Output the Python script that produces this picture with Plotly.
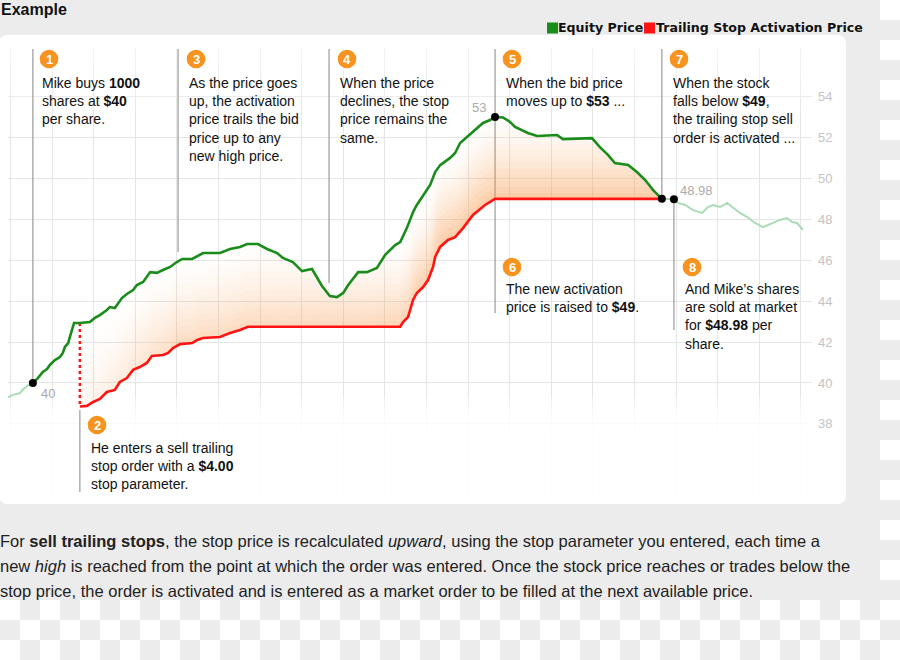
import numpy as np
import plotly.graph_objects as go

# ---------------- data (time index, price in $) ----------------
pre_t = [-0.6, 0.6, 2.3, 3.0, 4.0, 5.4]
pre_v = [39.30, 39.42, 39.50, 39.68, 39.85, 40.00]

green_t = [5.4, 6.6, 7.8, 8.8, 9.5, 10.7, 11.9, 12.6, 13.1, 13.9, 14.3, 14.8, 15.3, 16.7,
           19.1, 20.3, 21.5, 23.2, 23.9, 25.1, 26.8, 28.0, 29.5, 30.4, 31.9, 33.6, 35.2,
           36.7, 38.4, 40.0, 41.3, 43.7, 46.3, 50.4, 52.8, 55.2, 56.9, 59.5, 61.7, 64.1,
           65.5, 67.9, 70.1, 72.5, 73.7, 74.9, 76.8, 78.5, 80.0, 81.2, 83.6, 85.7, 88.1,
           90.1, 92.5, 93.7, 95.3, 96.8, 97.7, 99.2, 100.9, 102.1, 103.3, 105.7, 106.9,
           108.1, 109.8, 111.7, 113.6, 115.3, 116.5, 118.4, 120.1, 121.3, 123.0, 124.4,
           126.6, 131.4, 132.8, 139.8, 141.7, 143.7, 145.3, 148.5, 150.6, 152.6, 154.5, 156.6]
green_v = [40.00, 40.24, 40.54, 40.68, 40.88, 41.12, 41.27, 41.47, 41.76, 41.95, 42.25, 42.59,
           42.93, 42.93, 42.98, 43.18, 43.32, 43.57, 43.71, 43.66, 44.15, 44.35, 44.54, 44.79,
           44.94, 45.42, 45.38, 45.52, 45.67, 45.91, 46.06, 46.06, 46.35, 46.35, 46.55, 46.65,
           46.79, 46.79, 46.55, 46.35, 46.11, 45.91, 45.47, 45.57, 45.13, 44.74, 44.25, 44.20,
           44.40, 44.79, 45.42, 45.42, 45.62, 46.26, 46.74, 46.89, 47.57, 48.36, 48.70, 49.19,
           49.68, 50.31, 50.65, 51.00, 51.24, 51.73, 52.02, 52.36, 52.71, 52.85, 53.00, 52.98,
           52.76, 52.51, 52.36, 52.22, 52.07, 52.12, 51.92, 51.97, 51.53, 51.14, 50.75, 50.65,
           50.31, 49.92, 49.43, 49.00]

red_t = [16.7, 18.4, 19.9, 21.5, 23.2, 25.1, 26.3, 28.0, 29.5, 31.1, 32.8, 34.0, 36.7, 37.9,
         39.1, 40.8, 43.7, 44.9, 46.3, 50.4, 52.8, 55.2, 57.1, 93.7, 94.4, 95.6, 96.8, 97.7,
         99.2, 100.4, 101.6, 102.1, 103.3, 105.2, 106.9, 108.8, 111.2, 114.1, 116.5, 156.6]
red_v = [38.85, 38.88, 39.07, 39.22, 39.56, 39.66, 40.05, 40.24, 40.64, 40.78, 40.98, 41.32,
         41.37, 41.47, 41.71, 41.90, 41.95, 42.10, 42.20, 42.25, 42.44, 42.59, 42.75, 42.75,
         42.98, 43.23, 44.06, 44.40, 44.69, 45.03, 45.67, 46.16, 46.65, 46.99, 47.13, 47.57,
         48.21, 48.70, 49.00, 49.00]

post_t = [156.6, 159.5, 160.5, 162.2, 164.1, 166.3, 167.7, 168.9, 170.6, 172.3, 173.5, 175.4,
          177.1, 179.0, 180.9, 183.1, 185.0, 186.7, 187.9, 189.1, 190.5]
post_v = [49.00, 48.98, 48.80, 48.70, 48.45, 48.31, 48.60, 48.70, 48.60, 48.80, 48.60, 48.31,
          48.11, 47.82, 47.62, 47.82, 47.97, 48.06, 47.87, 47.82, 47.48]

y_ticks = [38, 40, 42, 44, 46, 48, 50, 52, 54]
series_names = ["Equity Price", "Trailing Stop Activation Price"]

# ---------------- geometry helpers (layout only) ----------------
W, H = 900, 660
ML, MR, MT, MB = 8, 88, 40, 160
PW, PH = W - ML - MR, H - MT - MB
XR = [-0.577, 192.69]
YR = [34.28, 56.764]


def X(px):
    return (px - ML) / PW


def Y(py):
    return (H - MB - py) / PH


def V(py):
    return YR[1] - (py - MT) / PH * (YR[1] - YR[0])


GREEN = "#1a8c1a"
RED = "#ff1414"
LIGHT = "#a9dcb6"
ORANGE = (247, 150, 70)
FONT = "Liberation Sans, Arial, sans-serif"

fig = go.Figure()

# ---------------- gradient fill between the two lines ----------------
tu = np.union1d(green_t, red_t)
tu = tu[(tu >= red_t[0]) & (tu <= red_t[-1])]
g_i = np.interp(tu, green_t, green_v)
r_i = np.interp(tu, red_t, red_v)
fig.add_trace(go.Scatter(x=tu, y=r_i, mode="lines", line=dict(width=0),
                         hoverinfo="skip", showlegend=False))
N, dv = 14, 0.3
for k in range(1, N + 1):
    upper = np.minimum(g_i, r_i + k * dv)
    a = 0.46 * (1 - (k - 1) / N) ** 1.6

    def c(f):
        return f"rgba({ORANGE[0]},{ORANGE[1]},{ORANGE[2]},{a * f:.3f})"
    fig.add_trace(go.Scatter(
        x=tu, y=upper, mode="lines", line=dict(width=0), fill="tonexty",
        fillgradient=dict(type="horizontal",
                          colorscale=[[0, c(0.15)], [0.17, c(0.7)], [0.5, c(0.75)],
                                      [0.62, c(1.0)], [1, c(1.0)]]),
        hoverinfo="skip", showlegend=False))

# ---------------- lines ----------------
fig.add_trace(go.Scatter(x=pre_t, y=pre_v, mode="lines", line=dict(color=LIGHT, width=2),
                         showlegend=False))
fig.add_trace(go.Scatter(x=post_t, y=post_v, mode="lines", line=dict(color=LIGHT, width=2),
                         showlegend=False))
fig.add_trace(go.Scatter(x=[red_t[0], red_t[0]], y=[green_v[green_t.index(red_t[0])], red_v[0]],
                         mode="lines", line=dict(color=RED, width=2.5, dash="dot"),
                         showlegend=False))
fig.add_trace(go.Scatter(x=red_t, y=red_v, mode="lines", name=series_names[1],
                         line=dict(color=RED, width=2.6), showlegend=False))
fig.add_trace(go.Scatter(x=green_t, y=green_v, mode="lines", name=series_names[0],
                         line=dict(color=GREEN, width=2.6), showlegend=False))
ipk = int(np.argmax(green_v))
dot_t = [green_t[0], green_t[ipk], green_t[-1], post_t[1]]
dot_v = [green_v[0], green_v[ipk], green_v[-1], post_v[1]]
fig.add_trace(go.Scatter(x=dot_t, y=dot_v, mode="markers",
                         marker=dict(color="black", size=8), showlegend=False))

shapes = []
annos = []

# ---------------- page background: card + checkerboard ----------------
cx0, cx1, cy0, cy1, r = -1, 846, 35, 504, 9
path = (f"M {X(cx0 + r)},{Y(cy0)} L {X(cx1 - r)},{Y(cy0)} Q {X(cx1)},{Y(cy0)} {X(cx1)},{Y(cy0 + r)} "
        f"L {X(cx1)},{Y(cy1 - r)} Q {X(cx1)},{Y(cy1)} {X(cx1 - r)},{Y(cy1)} "
        f"L {X(cx0 + r)},{Y(cy1)} Q {X(cx0)},{Y(cy1)} {X(cx0)},{Y(cy1 - r)} "
        f"L {X(cx0)},{Y(cy0 + r)} Q {X(cx0)},{Y(cy0)} {X(cx0 + r)},{Y(cy0)} Z")
shapes.append(dict(type="path", path=path, xref="paper", yref="paper",
                   fillcolor="white", line=dict(width=0), layer="below"))
for i in range(45):
    for j in range(33):
        if (i == 44 or j >= 30) and (i + j) % 2 == 0:
            shapes.append(dict(type="rect", xref="paper", yref="paper",
                               x0=X(i * 20), x1=X(i * 20 + 20), y0=Y(j * 20 + 20), y1=Y(j * 20),
                               fillcolor="white", line=dict(width=0), layer="below"))

# ---------------- grid fade (between grid and traces) ----------------
for k in range(8):
    shapes.append(dict(type="rect", xref="x", yref="y", x0=XR[0], x1=XR[1],
                       y0=YR[0], y1=V(396 + k * 6), fillcolor="white", opacity=0.3,
                       line=dict(width=0), layer="between"))
for k in range(6):
    shapes.append(dict(type="rect", xref="x", yref="y", x0=XR[0], x1=XR[1],
                       y0=V(50 + k * 12), y1=YR[1], fillcolor="white", opacity=0.14,
                       line=dict(width=0), layer="between"))
shapes.append(dict(type="rect", xref="x", yref="y", x0=XR[0], x1=XR[1],
                   y0=V(48), y1=YR[1], fillcolor="white", line=dict(width=0), layer="between"))

# ---------------- leader lines ----------------
GRAY = "#9a9a9a"
leaders = [(green_t[0], 49, 380), (40.3, 49, 252), (76.6, 49, 283), (green_t[ipk], 49, 313),
           (green_t[-1], 49, 196), (post_t[1], 203, 330), (red_t[0], 410, 492)]
for lt, ya, yb in leaders:
    shapes.append(dict(type="line", xref="x", yref="y", x0=lt, x1=lt, y0=V(ya), y1=V(yb),
                       line=dict(color=GRAY, width=1.2), layer="between"))

# ---------------- numbered circles ----------------
circles = [("1", 49, 59), ("3", 196, 59), ("4", 347, 59), ("5", 512, 59), ("7", 679, 59),
           ("2", 97, 425), ("6", 512, 267), ("8", 692, 267)]
rc = 9.3
for lab, cx, cy in circles:
    shapes.append(dict(type="circle", xref="paper", yref="paper", x0=X(cx - rc), x1=X(cx + rc),
                       y0=Y(cy + rc), y1=Y(cy - rc), fillcolor="#f7931e",
                       line=dict(width=0), layer="above"))
    annos.append(dict(x=X(cx), y=Y(cy + 0.5), xref="paper", yref="paper", text=f"<b>{lab}</b>",
                      showarrow=False, xanchor="center", yanchor="middle",
                      font=dict(family=FONT, size=13, color="white")))

# ---------------- text blocks ----------------
blocks = [
    (40, 83, "Mike buys <b>1000</b><br>shares at <b>$40</b><br>per share."),
    (187, 83, "As the price goes<br>up, the activation<br>price trails the bid<br>price up to any<br>new high price."),
    (338, 83, "When the price<br>declines, the stop<br>price remains the<br>same."),
    (504, 83, "When the bid price<br>moves up to <b>$53</b> ..."),
    (671, 83, "When the stock<br>falls below <b>$49</b>,<br>the trailing stop sell<br>order is activated ..."),
    (89, 448, "He enters a sell trailing<br>stop order with a <b>$4.00</b><br>stop parameter."),
    (504, 289, "The new activation<br>price is raised to <b>$49</b>."),
    (683, 289, "And Mike\u2019s shares<br>are sold at market<br>for <b>$48.98</b> per<br>share."),
]
for bx, by, s in blocks:
    annos.append(dict(x=X(bx), y=Y(by - 10.1), xref="paper", yref="paper", text=s,
                      showarrow=False, xanchor="left", yanchor="top", align="left",
                      font=dict(family=FONT, size=14, color="#111")))

# value labels near dots
for s, lx, ly in [("40", 48, 393), ("53", 479, 107), ("48.98", 696, 190)]:
    annos.append(dict(x=X(lx), y=Y(ly), xref="paper", yref="paper", text=s, showarrow=False,
                      xanchor="center", yanchor="middle",
                      font=dict(family=FONT, size=13, color="#ababab")))

# ---------------- title, legend, paragraph ----------------
annos.append(dict(x=X(-1), y=Y(10), xref="paper", yref="paper", text="<b>Example</b>",
                  showarrow=False, xanchor="left", yanchor="middle",
                  font=dict(family=FONT, size=16, color="#111")))
for (sx, col), name, tx in [((547, GREEN), series_names[0], 556),
                            ((644, RED), series_names[1], 653.5)]:
    shapes.append(dict(type="rect", xref="paper", yref="paper", x0=X(sx), x1=X(sx + 11),
                       y0=Y(33.5), y1=Y(22.5), fillcolor=col, line=dict(width=0)))
    annos.append(dict(x=X(tx), y=Y(28), xref="paper", yref="paper", text=f"<b>{name}</b>",
                      showarrow=False, xanchor="left", yanchor="middle",
                      font=dict(family="DejaVu Sans", size=12.6, color="#111")))

para = [
    "For <b>sell trailing stops</b>, the stop price is recalculated <i>upward</i>, using the stop parameter you entered, each time a",
    "new <i>high</i> is reached from the point at which the order was entered. Once the stock price reaches or trades below the",
    "stop price, the order is activated and is entered as a market order to be filled at the next available price.",
]
for k, s in enumerate(para):
    annos.append(dict(x=X(-2), y=Y(541 + 25 * k), xref="paper", yref="paper", text=s,
                      showarrow=False, xanchor="left", yanchor="middle",
                      font=dict(family=FONT, size=16.5, color="#222")))

fig.update_layout(
    width=W, height=H, margin=dict(l=ML, r=MR, t=MT, b=MB),
    paper_bgcolor="#ececec", plot_bgcolor="rgba(0,0,0,0)", showlegend=False,
    shapes=shapes, annotations=annos,
    xaxis=dict(range=XR, showticklabels=False, showgrid=True, gridcolor="#e6e6e6",
               tick0=0, dtick=10, zeroline=False, showline=False, ticks=""),
    yaxis=dict(range=YR, side="right", tickvals=y_ticks, ticktext=[str(v) for v in y_ticks],
               showgrid=True, gridcolor="#e6e6e6", zeroline=False, showline=False, ticks="",
               ticklabelstandoff=5,
               tickfont=dict(family=FONT, size=13, color="#c4c4c4")),
)

fig.write_html("out.html", config={"displayModeBar": False},
               post_script="document.body.style.margin='0';document.body.style.overflow='hidden';")
